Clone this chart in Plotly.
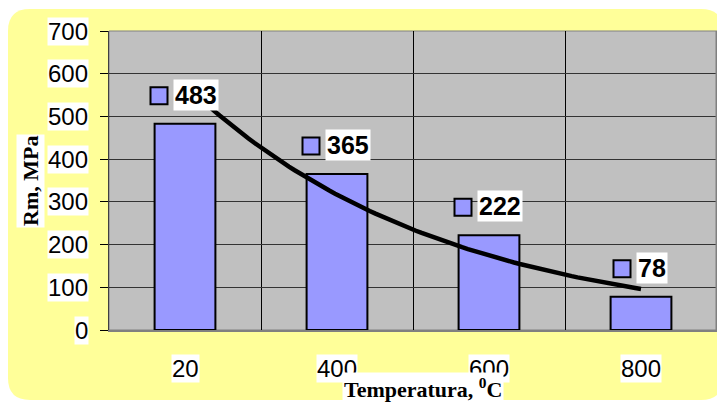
import numpy as np
import plotly.graph_objects as go

categories = ["20", "400", "600", "800"]
values = [483, 365, 222, 78]
y_ticks = [0, 100, 200, 300, 400, 500, 600, 700]

# page body has an 8px margin; figure is placed at (8, 8) in the page
OFF = 8
W, H = 725 - OFF, 403 - OFF
L, R, T, B = 109 - OFF, 8, 31 - OFF, 73
PW, PH = W - L - R, H - T - B

def px_x(p):
    return (p - OFF - L) / PW

def px_y(p):
    return (H - B - (p - OFF)) / PH

xs = list(range(len(categories)))

fig = go.Figure()

fig.add_trace(go.Bar(
    x=xs, y=values, width=0.4,
    marker=dict(color="#9999FF", line=dict(color="black", width=2)),
    hoverinfo="skip", showlegend=False,
))

# exponential trendline (fit of the data, like the spreadsheet trendline)
idx = np.arange(1, len(values) + 1)
b, a = np.polyfit(idx, np.log(values), 1)
tx = np.linspace(1, len(values), 80)
ty = np.exp(a + b * tx)
fig.add_trace(go.Scatter(
    x=tx - 1, y=ty, mode="lines",
    line=dict(color="black", width=4.5),
    hoverinfo="skip", showlegend=False,
))

shapes = []
x0, x1, y0, y1, r = 8, 723, 9, 400, 22
def P(x, y):
    return f"{px_x(x):.5f},{px_y(y):.5f}"
path = (f"M {P(x0 + r, y0)} L {P(x1 - r, y0)} Q {P(x1, y0)} {P(x1, y0 + r)} "
        f"L {P(x1, y1 - r)} Q {P(x1, y1)} {P(x1 - r, y1)} "
        f"L {P(x0 + r, y1)} Q {P(x0, y1)} {P(x0, y1 - r)} "
        f"L {P(x0, y0 + r)} Q {P(x0, y0)} {P(x0 + r, y0)} Z")
shapes.append(dict(type="path", path=path, xref="paper", yref="paper",
                   fillcolor="#FFFF99", line=dict(width=0), layer="below"))
shapes.append(dict(type="rect", xref="paper", yref="paper", x0=0, x1=1, y0=0, y1=1,
                   fillcolor="#C0C0C0", line=dict(color="#808080", width=1), layer="below"))
shapes.append(dict(type="line", xref="paper", yref="paper", x0=1, x1=1, y0=0, y1=1,
                   line=dict(color="#808080", width=3), layer="above"))

annotations = []
for v in y_ticks:
    annotations.append(dict(
        x=px_x(89), xref="paper", y=v, yref="y", xanchor="right", yanchor="middle",
        text=str(v), showarrow=False, bgcolor="white", borderpad=0,
        font=dict(family="Liberation Sans, Arial", size=24, color="black"),
    ))
for i, c in enumerate(categories):
    annotations.append(dict(
        x=i, xref="x", y=px_y(368), yref="paper", xanchor="center", yanchor="middle",
        text=c, showarrow=False, bgcolor="white", borderpad=0,
        font=dict(family="Liberation Sans, Arial", size=24, color="black"),
    ))

for i, v in enumerate(values):
    s = str(v)
    tw = 14 * len(s) + 2
    group = 17 + 6 + tw
    left = -group / 2 - 1
    shapes.append(dict(
        type="rect", xref="x", yref="y",
        xsizemode="pixel", ysizemode="pixel", xanchor=i, yanchor=v,
        x0=left, x1=left + 17, y0=19.5, y1=36.5,
        fillcolor="#9999FF", line=dict(color="black", width=2), layer="above",
    ))
    annotations.append(dict(
        x=i, xref="x", y=v, yref="y", xanchor="left", yanchor="middle",
        xshift=left + 22, yshift=29,
        text=f"<b>{s}</b>", showarrow=False, bgcolor="white", borderpad=1,
        font=dict(family="Liberation Sans, Arial", size=25, color="black"),
    ))

annotations.append(dict(
    x=px_x(30), xref="paper", y=px_y(181), yref="paper",
    xanchor="center", yanchor="middle", textangle=-90,
    text="<b>Rm, MPa</b>", showarrow=False, bgcolor="white", borderpad=1,
    font=dict(family="Liberation Serif, Times New Roman", size=22, color="black"),
))
annotations.append(dict(
    x=px_x(423), xref="paper", y=px_y(388), yref="paper",
    xanchor="center", yanchor="middle",
    text="<b>Temperatura, <sup>0</sup>C</b>", showarrow=False, bgcolor="white", borderpad=1,
    font=dict(family="Liberation Serif, Times New Roman", size=22, color="black"),
))

fig.update_layout(
    width=W, height=H,
    margin=dict(l=L, r=R, t=T, b=B, pad=0),
    paper_bgcolor="white", plot_bgcolor="#C0C0C0",
    showlegend=False,
    shapes=shapes, annotations=annotations,
    xaxis=dict(
        range=[-0.5, len(categories) - 0.5], tickvals=[0.5, 1.5, 2.5],
        showticklabels=False, ticks="", showgrid=True, gridcolor="black", gridwidth=1,
        zeroline=False, showline=True, linecolor="#808080", linewidth=2, fixedrange=True,
    ),
    yaxis=dict(
        range=[0, 700], tickvals=y_ticks, showticklabels=False,
        ticks="outside", ticklen=8, tickcolor="black", tickwidth=1,
        showgrid=True, gridcolor="#333333", gridwidth=1,
        zeroline=False, showline=True, linecolor="#404040", linewidth=1, fixedrange=True,
    ),
)

fig.write_html("out.html")
